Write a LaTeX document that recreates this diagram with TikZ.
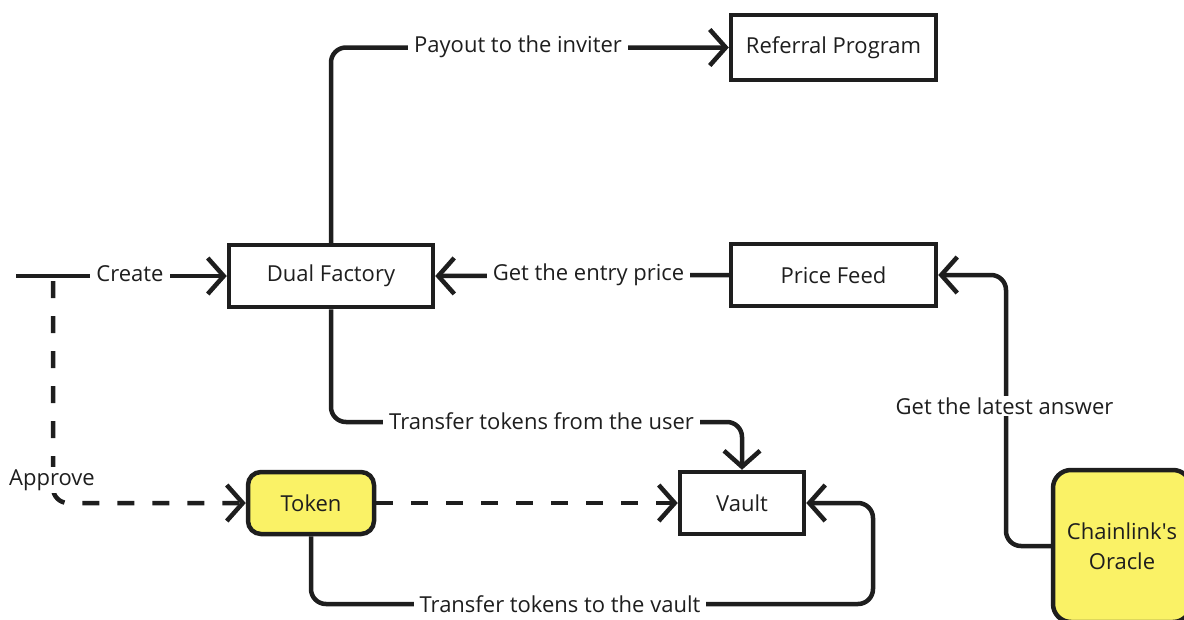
\documentclass[tikz,border=0pt]{standalone}
\usepackage{fontspec}
\setmainfont{Open Sans}
\usetikzlibrary{arrows.meta}
\definecolor{ink}{RGB}{30,30,30}
\definecolor{tokenyellow}{RGB}{250,242,102}
\tikzset{
  box/.style={draw=ink, line width=4.5pt, fill=white, inner sep=0pt, text=ink,
    font=\fontsize{22}{30}\selectfont},
  ybox/.style={box, fill=tokenyellow, rounded corners=13pt},
  flow/.style={draw=ink, line width=4.5pt, rounded corners=15pt,
    -{Straight Barb[length=16pt,width=36pt]}},
  dflow/.style={flow, dash pattern=on 17pt off 18pt},
  lbl/.style={fill=white, text=ink, inner xsep=6pt, inner ysep=2pt,
    font=\fontsize{22}{26}\selectfont}
}
\begin{document}
\begin{tikzpicture}[x=1pt, y=-1pt]
\useasboundingbox (0,0) rectangle (1184,619);

% components
\node[box, minimum width=205pt, minimum height=65pt] (ref) at (833.5,47.5) {Referral Program};
\node[box, minimum width=204pt, minimum height=62pt] (df) at (331,276) {Dual Factory};
\node[box, minimum width=205pt, minimum height=62pt] (pf) at (833.5,275) {Price Feed};
\node[box, minimum width=124pt, minimum height=62pt] (vault) at (742,503) {Vault};
\node[ybox, minimum width=126pt, minimum height=62pt] (token) at (311,503) {Token};
\node[ybox, rounded corners=18pt, minimum width=138pt, minimum height=152pt, align=center]
  (oracle) at (1122,546) {Chainlink\textquotesingle s\\Oracle};

% routing points
\coordinate (user) at (16,276);
\coordinate (split) at (53,281);
\coordinate (tu) at (742,422);
\coordinate (tv) at (873,604);
\coordinate (la) at (1006,275);

% connectors
\draw[flow] (user) -- (df.west);
\draw[dflow] (split) |- (token.west);
\draw[flow] (df.north) |- (ref.west);
\draw[flow] (pf.west) -- (df.east);
\draw[flow] (df.south) |- (tu) -- (vault.north);
\draw[flow] (oracle.west) -| (la) -- (pf.east);
\draw[dflow] (token.east) -- (vault.west);
\draw[flow] (token.south) |- (tv) |- (vault.east);

% connector labels
\node[lbl] (lcreate) at (130,274) {Create};
\node[lbl] (lapprove) at (52,480) {Approve};
\node[lbl] (lpayout) at (518,47) {Payout to the inviter};
\node[lbl] (lentry) at (588.5,275) {Get the entry price};
\node[lbl] (lfrom) at (541.5,421) {Transfer tokens from the user};
\node[lbl] (lto) at (560,604) {Transfer tokens to the vault};
\node[lbl] (llatest) at (1004.5,406) {Get the latest answer};
\end{tikzpicture}
\end{document}
